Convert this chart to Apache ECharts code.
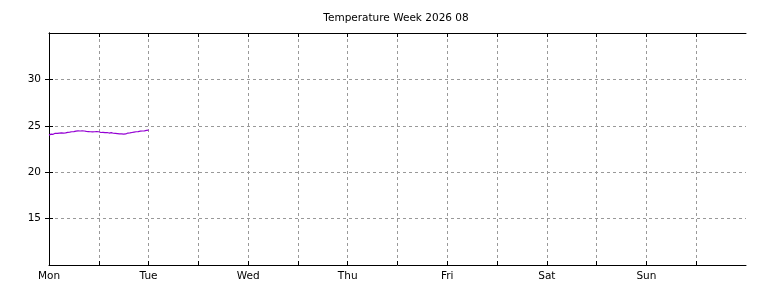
<!DOCTYPE html>
<html><head><meta charset="utf-8">
<script src="https://cdn.jsdelivr.net/npm/echarts@6/dist/echarts.min.js"></script>
<style>html,body{margin:0;padding:0;background:#fff}#c{width:768px;height:288px}</style>
</head><body><div id="c"></div>
<script>
const titleText = 'Temperature Week 2026 08';
const dayLabels = ['Mon','Tue','Wed','Thu','Fri','Sat','Sun'];
const yTicks = [15, 20, 25, 30];
const xTickHours = [12,24,36,48,60,72,84,96,108,120,132,144,156];
// readings every 15 minutes from Monday 00:00 (hour offsets)
const hours = [0,0.25,0.5,0.75,1,1.25,1.5,1.75,2,2.25,2.5,2.75,3,3.25,3.5,3.75,4,4.25,4.5,4.75,5,5.25,5.5,5.75,6,6.25,6.5,6.75,7,7.25,7.5,7.75,8,8.25,8.5,8.75,9,9.25,9.5,9.75,10,10.25,10.5,10.75,11,11.25,11.5,11.75,12,12.25,12.5,12.75,13,13.25,13.5,13.75,14,14.25,14.5,14.75,15,15.25,15.5,15.75,16,16.25,16.5,16.75,17,17.25,17.5,17.75,18,18.25,18.5,18.75,19,19.25,19.5,19.75,20,20.25,20.5,20.75,21,21.25,21.5,21.75,22,22.25,22.5,22.75,23,23.25,23.5,23.75,24];
const temps = [24.00,23.96,24.10,24.16,24.08,24.12,24.20,24.14,24.18,24.16,24.22,24.18,24.24,24.20,24.22,24.26,24.24,24.28,24.30,24.28,24.32,24.34,24.36,24.34,24.38,24.40,24.42,24.44,24.45,24.46,24.44,24.46,24.45,24.42,24.44,24.42,24.40,24.41,24.38,24.40,24.36,24.38,24.35,24.38,24.36,24.32,24.38,24.30,24.36,24.32,24.28,24.36,24.30,24.34,24.26,24.32,24.28,24.30,24.22,24.30,24.26,24.24,24.20,24.22,24.18,24.20,24.16,24.18,24.14,24.16,24.12,24.14,24.10,24.20,24.12,24.08,24.22,24.16,24.24,24.26,24.28,24.30,24.32,24.34,24.36,24.38,24.38,24.40,24.42,24.44,24.44,24.46,24.46,24.48,24.50,24.52,24.54];

const font = 'DejaVu Sans';
const chart = echarts.init(document.getElementById('c'));
const axisLine = {show:true, lineStyle:{color:'#000', width:1}};
const tick = {show:true, inside:true, length:4, lineStyle:{color:'#000'}};
const split = {show:true, lineStyle:{color:'#999', type:[3,3], width:1}};
chart.setOption({
  animation:false,
  textStyle:{fontFamily:font},
  title:{text:titleText, left:391, textAlign:'center', top:8, textStyle:{fontFamily:font, fontSize:10.5, fontWeight:'normal', color:'#000'}},
  grid:{left:49, right:22, top:33, bottom:23, containLabel:false},
  xAxis:[
    {type:'value', min:0, max:168, interval:12, axisLine, axisTick:Object.assign({}, tick, {customValues:xTickHours}), splitLine:split,
     axisLabel:{color:'#000', fontSize:10.5, fontFamily:font, margin:6,
       formatter:v => (v % 24 === 0 && v/24 < dayLabels.length) ? dayLabels[v/24] : ''}},
    {type:'value', position:'top', min:0, max:168, interval:12, axisLine, axisTick:Object.assign({}, tick, {customValues:xTickHours}),
     splitLine:{show:false}, axisLabel:{show:false}}
  ],
  yAxis:[
    {type:'value', min:10, max:35, interval:5, axisLine, axisTick:Object.assign({}, tick, {customValues:yTicks}), splitLine:split,
     axisLabel:{color:'#000', fontSize:10.5, fontFamily:font, margin:8,
       formatter:v => yTicks.includes(v) ? String(v) : ''}},
    {type:'value', position:'right', min:10, max:35, interval:5, axisLine, axisTick:Object.assign({}, tick, {customValues:yTicks}),
     splitLine:{show:false}, axisLabel:{show:false}}
  ],
  series:[{type:'line', data:hours.map((h,i)=>[h,temps[i]]), showSymbol:false,
    lineStyle:{color:'#9400d3', width:1.2}, itemStyle:{color:'#9400d3'}}]
});
</script></body></html>
